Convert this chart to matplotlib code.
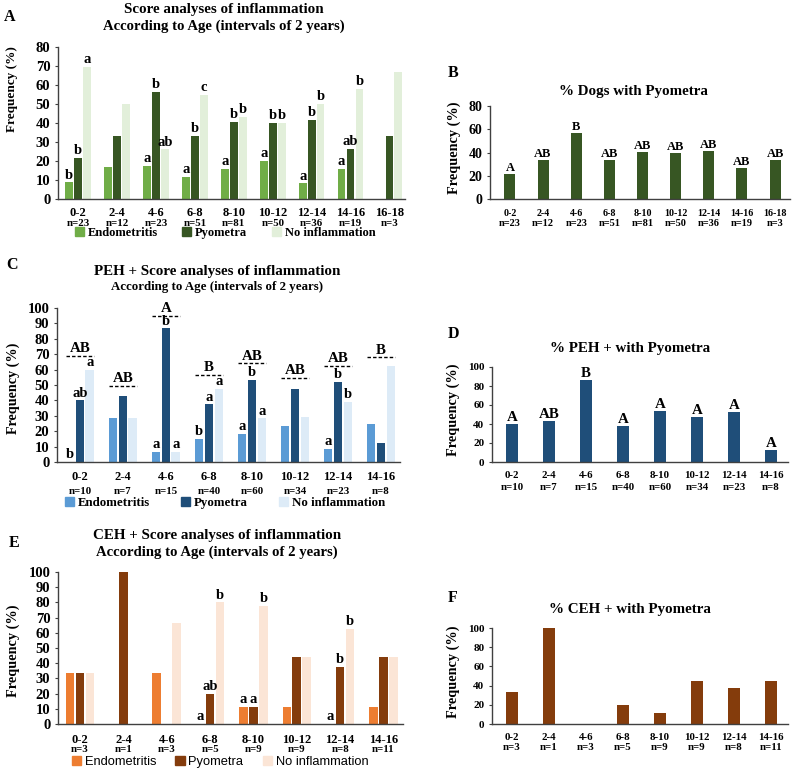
import numpy as np
import matplotlib.pyplot as plt
from matplotlib.patches import Patch

plt.rcParams['font.family'] = ['Liberation Serif', 'DejaVu Serif']
plt.rcParams['font.weight'] = 'bold'

W, H = 795, 772

ages = ['0-2', '2-4', '4-6', '6-8', '8-10', '10-12', '12-14', '14-16', '16-18']

# panel A / B : all dogs
n_all = [23, 12, 23, 51, 81, 50, 36, 19, 3]
endo_all = [8.7, 16.7, 17.4, 11.8, 16.0, 20.0, 8.3, 15.8, 0]
pyo_all = [21.7, 33.3, 56.5, 33.3, 40.7, 40.0, 41.7, 26.3, 33.3]
none_all = [69.6, 50.0, 26.1, 54.9, 43.2, 40.0, 50.0, 57.9, 66.7]
let_all = [('b', 'b', 'a'), ('', '', ''), ('a', 'b', 'ab'), ('a', 'b', 'c'), ('a', 'b', 'b'),
           ('a', 'b', 'b'), ('a', 'b', 'b'), ('a', 'ab', 'b'), ('', '', '')]
let_b = ['A', 'AB', 'B', 'AB', 'AB', 'AB', 'AB', 'AB', 'AB']

# panel C / D : PEH
n_peh = [10, 7, 15, 40, 60, 34, 23, 8]
endo_peh = [0, 28.6, 6.7, 15.0, 18.3, 23.5, 8.7, 25.0]
pyo_peh = [40.0, 42.9, 86.7, 37.5, 53.3, 47.1, 52.2, 12.5]
none_peh = [60.0, 28.6, 6.7, 47.5, 28.3, 29.4, 39.1, 62.5]
let_peh = [('b', 'ab', 'a'), ('', '', ''), ('a', 'b', 'a'), ('b', 'a', 'a'), ('a', 'b', 'a'),
           ('', '', ''), ('a', 'b', 'b'), ('', '', '')]
grp_peh = ['AB', 'AB', 'A', 'B', 'AB', 'AB', 'AB', 'B']
grp_peh_y = [69, 49.5, 95, 56.5, 64, 54.5, 62.5, 68]
let_d = ['A', 'AB', 'B', 'A', 'A', 'A', 'A', 'A']

# panel E / F : CEH
n_ceh = [3, 1, 3, 5, 9, 9, 8, 11]
endo_ceh = [33.3, 0, 33.3, 0, 11.1, 11.1, 0, 11.1]
pyo_ceh = [33.3, 100, 0, 20.0, 11.1, 44.4, 37.5, 44.4]
none_ceh = [33.3, 0, 66.7, 80.0, 77.8, 44.4, 62.5, 44.4]
let_ceh = [('', '', ''), ('', '', ''), ('', '', ''), ('a', 'ab', 'b'), ('a', 'a', 'b'),
           ('', '', ''), ('a', 'b', 'b'), ('', '', '')]

greens = ['#70AD47', '#375623', '#E2EFDA']
blues = ['#5B9BD5', '#1F4E79', '#DDEBF7']
oranges = ['#ED7D31', '#843C0C', '#FBE5D6']

fig = plt.figure(figsize=(W / 100, H / 100), dpi=100)


def px_axes(x0, y_top, x1, y_bot):
    return fig.add_axes([x0 / W, 1 - y_bot / H, (x1 - x0) / W, (y_bot - y_top) / H])


def style(ax, ymax, step, tick_fs):
    ax.set_ylim(0, ymax)
    ax.set_yticks(np.arange(0, ymax + 1, step))
    for s in ['top', 'right']:
        ax.spines[s].set_visible(False)
    for s in ['left', 'bottom']:
        ax.spines[s].set_color('#404040')
        ax.spines[s].set_linewidth(1)
    ax.tick_params(axis='y', labelsize=tick_fs, length=2.5, width=0.8, pad=3, colors='#404040',
                   labelcolor='black')
    ax.tick_params(axis='x', length=0)
    ax.set_xticklabels([])


def xlabels(ax, labs, ns, fs1, fs2, d1, d2):
    ax.set_xticks(range(len(labs)))
    ax.set_xticklabels([])
    for i, (l, n) in enumerate(zip(labs, ns)):
        ax.annotate(l, xy=(i, 0), xycoords=('data', 'axes fraction'), xytext=(0, -d1),
                    textcoords='offset pixels', ha='center', va='center', fontsize=fs1)
        ax.annotate(f'n={n}', xy=(i, 0), xycoords=('data', 'axes fraction'), xytext=(0, -d2),
                    textcoords='offset pixels', ha='center', va='center', fontsize=fs2)


def grouped(ax, vals, letters, colors, w=0.2, off=0.23, lfs=10.5):
    x = np.arange(len(vals[0]))
    for k, (v, c) in enumerate(zip(vals, colors)):
        rects = ax.bar(x + (k - 1) * off, v, w, color=c)
        for i, r in enumerate(rects):
            t = letters[i][k]
            if t:
                ax.annotate(t, xy=(r.get_x() + r.get_width() / 2, r.get_height()),
                            xytext=(0, 0.5), textcoords='offset points',
                            ha='center', va='bottom', fontsize=lfs)


def single(ax, vals, color, letters=None, w=0.33, lfs=10):
    rects = ax.bar(np.arange(len(vals)), vals, w, color=color)
    if letters:
        for r, t in zip(rects, letters):
            ax.annotate(t, xy=(r.get_x() + r.get_width() / 2, r.get_height()),
                        xytext=(0, 0), textcoords='offset points',
                        ha='center', va='bottom', fontsize=lfs)


# ---------------- A ----------------
axA = px_axes(58, 47, 405, 199)
grouped(axA, [endo_all, pyo_all, none_all], let_all, greens)
axA.set_xlim(-0.52, 8.4)
style(axA, 80, 10, 10.5)
xlabels(axA, ages, n_all, 9, 7.8, 14, 24)
fig.text(224 / W, 1 - 9 / H, 'Score analyses of inflammation', ha='center', va='center', fontsize=10.8)
fig.text(224 / W, 1 - 26 / H, 'According to Age (intervals of 2 years)', ha='center', va='center', fontsize=10.6)
fig.text(10 / W, 1 - 17 / H, 'A', ha='center', va='center', fontsize=11.5)
fig.text(12.5 / W, 1 - 89 / H, 'Frequency (%)', rotation=90, ha='center', va='center', fontsize=9.5)
fig.legend(handles=[Patch(color=c) for c in greens], labels=['Endometritis', 'Pyometra', 'No inflammation'],
           loc='center', bbox_to_anchor=(225 / W, 1 - 233 / H), ncol=3, frameon=False, fontsize=9,
           handlelength=0.7, handleheight=0.7, handletextpad=0.3, columnspacing=2.0, borderpad=0)

# ---------------- B ----------------
axB = px_axes(490, 106, 790, 199)
single(axB, pyo_all, greens[1], let_b, lfs=9)
axB.set_xlim(-0.6, 8.45)
style(axB, 80, 20, 10)
xlabels(axB, ages, n_all, 7.2, 7.5, 14, 24)
fig.text(633 / W, 1 - 91 / H, '% Dogs with Pyometra', ha='center', va='center', fontsize=10.8)
fig.text(453 / W, 1 - 73 / H, 'B', ha='center', va='center', fontsize=11.5)
fig.text(454 / W, 1 - 148 / H, 'Frequency (%)', rotation=90, ha='center', va='center', fontsize=10.3)

# ---------------- C ----------------
axC = px_axes(57, 308, 400, 462)
grouped(axC, [endo_peh, pyo_peh, none_peh], let_peh, blues)
for i, (t, yv) in enumerate(zip(grp_peh, grp_peh_y)):
    axC.plot([i - 0.32, i + 0.32], [yv, yv], color='black', lw=1, ls=(0, (2.5, 1.5)))
    axC.annotate(t, xy=(i, yv), xytext=(0, 0.5), textcoords='offset points',
                 ha='center', va='bottom', fontsize=10.8)
axC.set_xlim(-0.53, 7.44)
style(axC, 100, 10, 10.5)
xlabels(axC, ages[:8], n_peh, 9, 7.8, 15, 29)
fig.text(217 / W, 1 - 272 / H, 'PEH + Score analyses of inflammation', ha='center', va='center', fontsize=10.8)
fig.text(217 / W, 1 - 287 / H, 'According to Age (intervals of 2 years)', ha='center', va='center', fontsize=9.3)
fig.text(12 / W, 1 - 265 / H, 'C', ha='center', va='center', fontsize=11.5)
fig.text(13 / W, 1 - 388 / H, 'Frequency (%)', rotation=90, ha='center', va='center', fontsize=10.2)
fig.legend(handles=[Patch(color=c) for c in blues], labels=['Endometritis', 'Pyometra', 'No inflammation'],
           loc='center', bbox_to_anchor=(225 / W, 1 - 503 / H), ncol=3, frameon=False, fontsize=9.3,
           handlelength=0.7, handleheight=0.7, handletextpad=0.3, columnspacing=2.4, borderpad=0)

# ---------------- D ----------------
axD = px_axes(492, 367, 788, 462)
single(axD, pyo_peh, blues[1], let_d, lfs=10.8)
axD.set_xlim(-0.54, 7.46)
style(axD, 100, 20, 8)
xlabels(axD, ages[:8], n_peh, 7.8, 7.8, 13, 25)
fig.text(630 / W, 1 - 348 / H, '% PEH + with Pyometra', ha='center', va='center', fontsize=10.8)
fig.text(453 / W, 1 - 334 / H, 'D', ha='center', va='center', fontsize=11.5)
fig.text(453 / W, 1 - 410 / H, 'Frequency (%)', rotation=90, ha='center', va='center', fontsize=10.3)

# ---------------- E ----------------
axE = px_axes(58, 572, 403, 724)
grouped(axE, [endo_ceh, pyo_ceh, none_ceh], let_ceh, oranges)
axE.set_xlim(-0.51, 7.45)
style(axE, 100, 10, 10.5)
xlabels(axE, ages[:8], n_ceh, 9, 7.8, 16, 26)
fig.text(217 / W, 1 - 535 / H, 'CEH + Score analyses of inflammation', ha='center', va='center', fontsize=10.8)
fig.text(217 / W, 1 - 552 / H, 'According to Age (intervals of 2 years)', ha='center', va='center', fontsize=10.6)
fig.text(14 / W, 1 - 543 / H, 'E', ha='center', va='center', fontsize=11.5)
fig.text(13 / W, 1 - 651 / H, 'Frequency (%)', rotation=90, ha='center', va='center', fontsize=10.3)
fig.legend(handles=[Patch(color=c) for c in oranges], labels=['Endometritis', 'Pyometra', 'No inflammation'],
           loc='center', bbox_to_anchor=(220 / W, 1 - 762 / H), ncol=3, frameon=False,
           prop={'family': 'Liberation Sans', 'weight': 'normal', 'size': 9.3},
           handlelength=0.7, handleheight=0.7, handletextpad=0.3, columnspacing=1.5, borderpad=0)

# ---------------- F ----------------
axF = px_axes(492, 628, 788, 724)
single(axF, pyo_ceh, oranges[1], w=0.3)
axF.set_xlim(-0.54, 7.46)
style(axF, 100, 20, 8)
xlabels(axF, ages[:8], n_ceh, 7.8, 7.8, 14, 24)
fig.text(630 / W, 1 - 609 / H, '% CEH + with Pyometra', ha='center', va='center', fontsize=10.8)
fig.text(453 / W, 1 - 598 / H, 'F', ha='center', va='center', fontsize=11.5)
fig.text(453 / W, 1 - 672 / H, 'Frequency (%)', rotation=90, ha='center', va='center', fontsize=10.3)

fig.savefig('out.png', dpi=100)
